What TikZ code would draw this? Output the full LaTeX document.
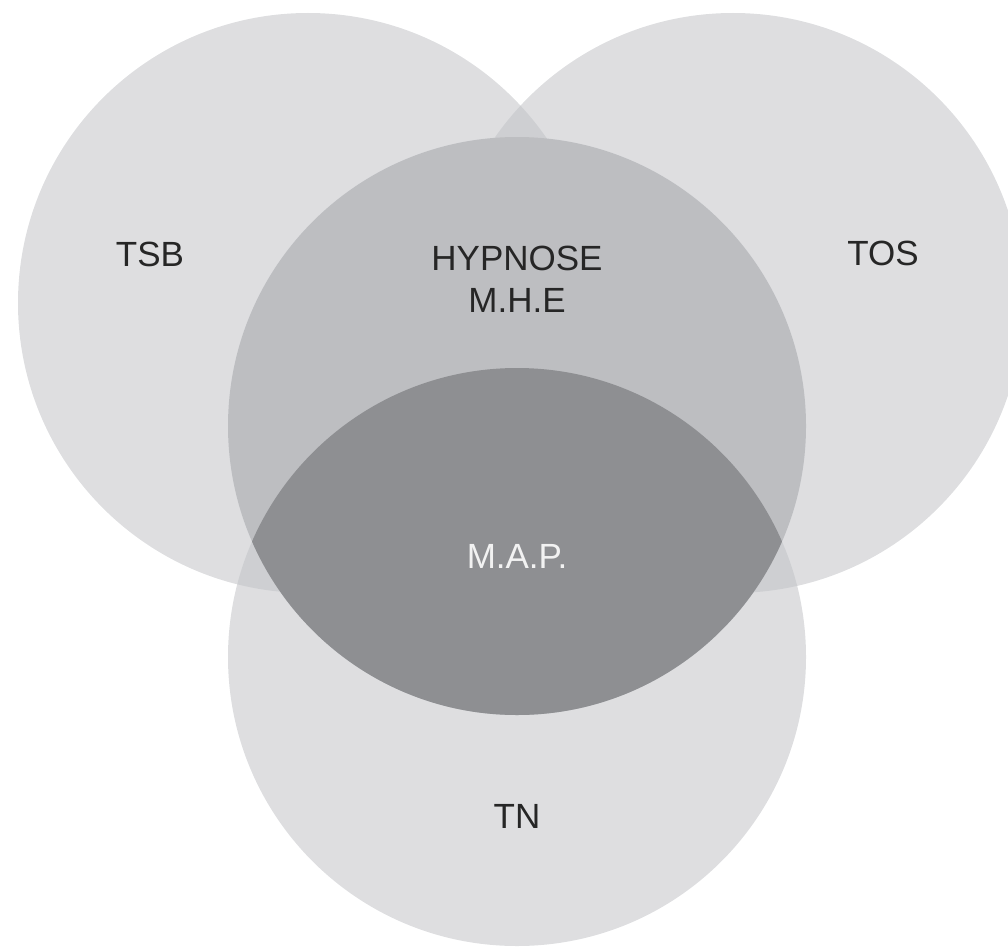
\documentclass[tikz,border=0pt]{standalone}
\usepackage{fontspec}
\setmainfont{Liberation Sans}
\definecolor{ringgray}{RGB}{194,195,199}
\definecolor{hypgray}{RGB}{189,190,193}
\definecolor{mapgray}{RGB}{142,143,146}
\tikzset{
  ring/.style={fill=ringgray,fill opacity=0.55},
  lbl/.style={font=\fontsize{35}{42}\selectfont,text=black!85,align=center,inner sep=0pt}
}
\begin{document}
\begin{tikzpicture}[x=1pt,y=-1pt]
\useasboundingbox (0,0) rectangle (1008,947);
\clip (0,0) rectangle (1008,947);
\fill[ring] (308,303) circle (290pt);
\fill[ring] (733,303) circle (290pt);
\fill[ring] (517,657) circle (289pt);
\fill[hypgray] (517,426) circle (289pt);
\begin{scope}
\clip (517,426) circle (289pt);
\fill[mapgray] (517,657) circle (289pt);
\end{scope}
\node[lbl] (tsb) at (150,254) {TSB};
\node[lbl] (tos) at (883,253) {TOS};
\node[lbl] (hyp) at (517,279) {HYPNOSE\\M.H.E};
\node[lbl,text=white!95!black] (map) at (517,556) {M.A.P.};
\node[lbl] (tn) at (517,816) {TN};
\end{tikzpicture}
\end{document}
